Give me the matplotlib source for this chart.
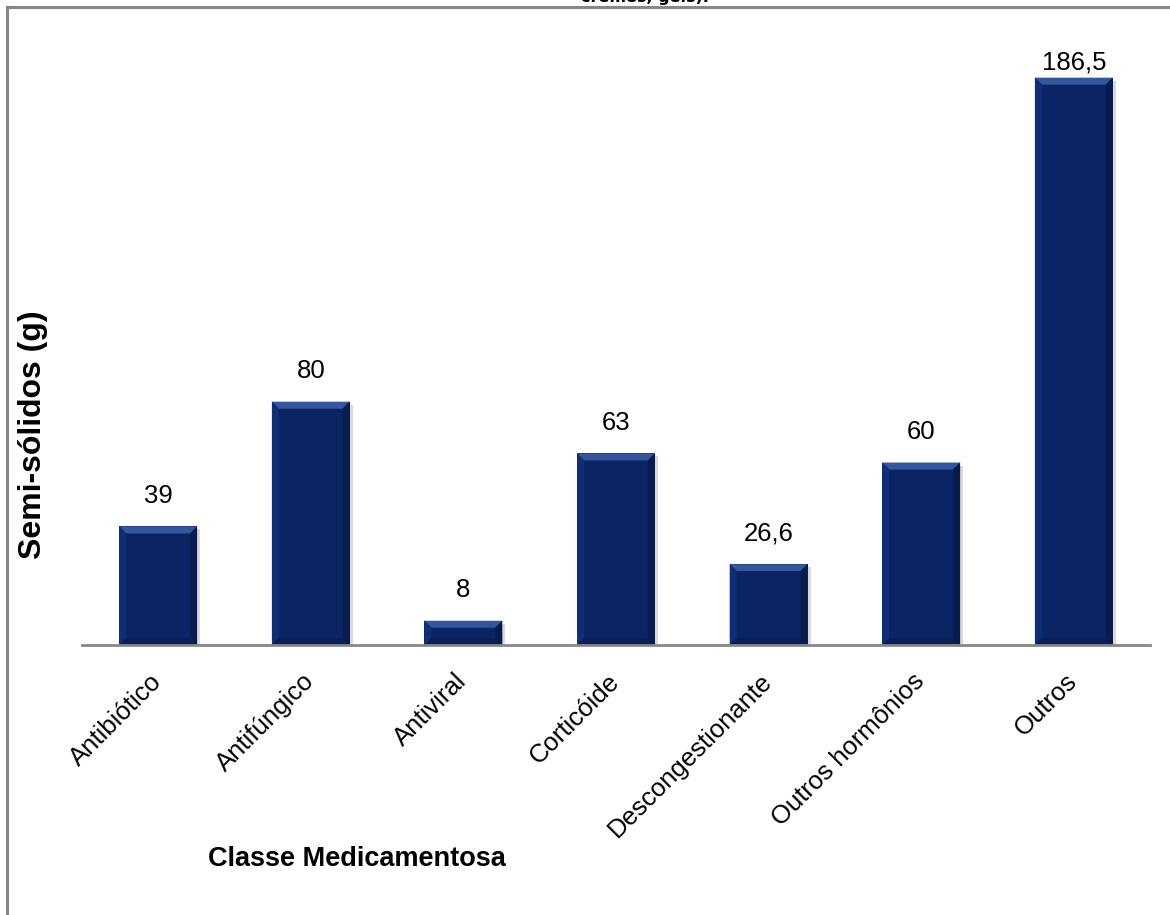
import matplotlib
matplotlib.use('Agg')
import matplotlib.pyplot as plt
from matplotlib.patches import Polygon, Rectangle
from matplotlib.lines import Line2D
from matplotlib.transforms import ScaledTranslation

plt.rcParams['font.family'] = ['Liberation Sans', 'DejaVu Sans']

categories = ['Antibiótico', 'Antifúngico', 'Antiviral', 'Corticóide',
              'Descongestionante', 'Outros hormônios', 'Outros']
values = [39, 80, 8, 63, 26.6, 60, 186.5]
value_labels = ['39', '80', '8', '63', '26,6', '60', '186,5']

bar_color = '#0A2464'
top_color = '#34569C'
left_color = '#102E76'
right_color = '#071B4E'
bottom_color = '#081E58'
grey = '#878787'

fig = plt.figure(figsize=(11.7, 9.15), dpi=100)
ax = fig.add_axes([0.070, 0.295, 0.913, 0.665])

x = list(range(len(categories)))
width = 0.51
ax.set_xlim(-0.5, len(categories) - 0.5)
ax.set_ylim(0, 200)

# pixel scale, used for the bevel and shadow sizes
px_x = (len(categories)) / (0.913 * 1170)
px_y = 200 / (0.665 * 915)
bx, by = 7 * px_x, 7 * px_y

bars = ax.bar(x, values, width=width, color=bar_color, zorder=3)

for b in bars:
    x0 = b.get_x()
    x1 = x0 + b.get_width()
    y1 = b.get_height()
    # soft shadow
    ax.add_patch(Rectangle((x0 + 3 * px_x, 0), b.get_width(), y1 - 3 * px_y,
                           color='#000000', alpha=0.15, lw=0, zorder=2))
    ax.add_patch(Polygon([(x0, y1), (x1, y1), (x1 - bx, y1 - by), (x0 + bx, y1 - by)],
                         closed=True, color=top_color, lw=0, zorder=4))
    ax.add_patch(Polygon([(x0, 0), (x0, y1), (x0 + bx, y1 - by), (x0 + bx, by)],
                         closed=True, color=left_color, lw=0, zorder=4))
    ax.add_patch(Polygon([(x1, 0), (x1, y1), (x1 - bx, y1 - by), (x1 - bx, by)],
                         closed=True, color=right_color, lw=0, zorder=4))
    ax.add_patch(Polygon([(x0, 0), (x1, 0), (x1 - bx, by), (x0 + bx, by)],
                         closed=True, color=bottom_color, lw=0, zorder=4))

for xi, v, lab in zip(x, values, value_labels):
    ax.text(xi, min(v + 10, 191.5), lab, ha='center', va='center', fontsize=18.5, zorder=5)

for s in ['top', 'right', 'left']:
    ax.spines[s].set_visible(False)
ax.spines['bottom'].set_color(grey)
ax.spines['bottom'].set_linewidth(2)
ax.spines['bottom'].set_zorder(6)

ax.set_yticks([])
ax.set_xticks(x)
ax.set_xticklabels(categories, rotation=45, ha='right', rotation_mode='anchor', fontsize=18.5)
ax.tick_params(axis='x', length=0, pad=16)
shift = ScaledTranslation(-9 / 100, -2 / 100, fig.dpi_scale_trans)
for t in ax.get_xticklabels():
    t.set_transform(t.get_transform() + shift)

ax.set_ylabel('Semi-sólidos (g)', fontsize=23, fontweight='bold')
ax.yaxis.set_label_coords(-0.032, 0.345)
ax.set_xlabel('Classe Medicamentosa', fontsize=19.5, fontweight='bold')
ax.xaxis.set_label_coords(0.2575, -0.33)

# outer chart frame (left and top edges visible)
fig.add_artist(Line2D([7 / 1170, 7 / 1170], [0, 1 - 7 / 915], color=grey, lw=2.2))
fig.add_artist(Line2D([7 / 1170, 1], [1 - 7 / 915, 1 - 7 / 915], color=grey, lw=2.2))

# title cut off at the top edge, as in the source
fig.text(645 / 1170, 1 - 2 / 915, 'cremes, géis).', ha='center', va='baseline',
         fontsize=11.5, fontweight='bold', family='DejaVu Sans')

fig.savefig('out.png', dpi=100)
